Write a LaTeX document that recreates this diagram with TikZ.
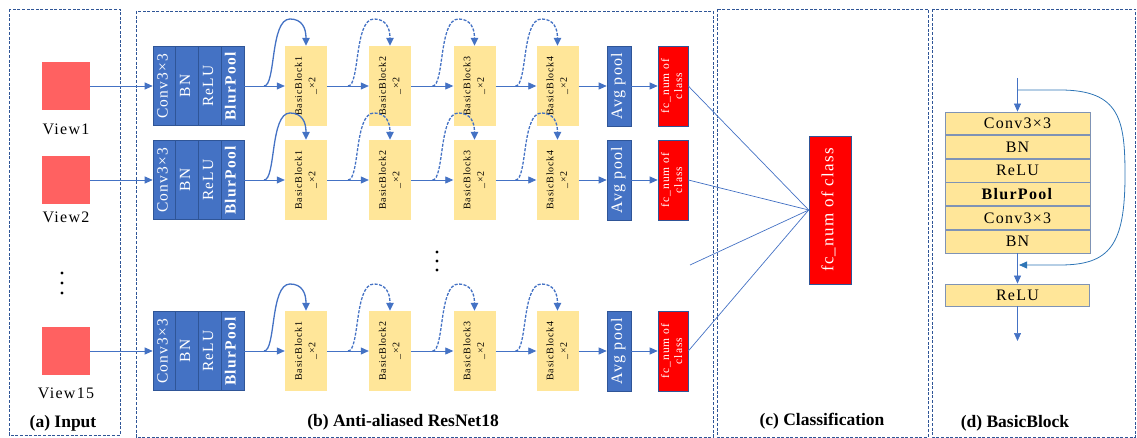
\documentclass[tikz,border=0pt]{standalone}
\usepackage{fontspec}
\setmainfont[LetterSpace=8]{Liberation Serif}
\newfontfamily\plainf{Liberation Serif}
\usetikzlibrary{arrows.meta}
\definecolor{sblue}{HTML}{4472C4}
\definecolor{dblue}{HTML}{2F5597}
\definecolor{byel}{HTML}{FFE699}
\definecolor{vred}{HTML}{FF6161}
\definecolor{fred}{HTML}{FF0000}
\definecolor{lblue}{HTML}{2E75B6}
\definecolor{gblue}{HTML}{7F93B5}
\newcommand{\rt}[1]{\rotatebox{90}{\begin{tabular}{@{}c@{}}#1\end{tabular}}}
\begin{document}
\begin{tikzpicture}[x=1pt,y=-1pt,
 panel/.style={draw=dblue,line width=0.9pt,dash pattern=on 3pt off 1.6pt},
 insq/.style={fill=vred,minimum width=48pt,minimum height=48pt,inner sep=0},
 stemcell/.style={draw=dblue,line width=0.6pt,fill=sblue,minimum width=22.75pt,minimum height=79pt,inner sep=0,text=white,font=\fontsize{15.5}{15.5}\selectfont},
 bbk/.style={fill=byel,minimum width=42pt,minimum height=80pt,inner sep=0,font=\fontsize{10}{13.5}\selectfont},
 avgp/.style={draw=dblue,fill=sblue,line width=0.6pt,minimum width=24pt,minimum height=80pt,inner sep=0,text=white,font=\fontsize{16}{16}\selectfont},
 fcb/.style={draw=dblue,fill=fred,line width=0.6pt,minimum width=30pt,minimum height=80pt,inner sep=0,text=white,font=\fontsize{11.5}{13}\selectfont},
 conn/.style={draw=sblue,line width=0.8pt,-{Triangle[length=8pt,width=7pt]}},
 skip/.style={draw=sblue,line width=1.3pt,-{Triangle[length=8pt,width=7.5pt]}},
 dskip/.style={skip,dash pattern=on 3pt off 1.5pt},
 fcl/.style={draw=sblue,line width=0.7pt},
 thin/.style={draw=sblue,line width=0.7pt,-{Triangle[length=8pt,width=7pt]}},
 dcell/.style={draw=gblue,line width=0.8pt,fill=byel,minimum width=145pt,minimum height=22.83pt,inner sep=0,font=\fontsize{16}{16}\selectfont},
 lbl/.style={font=\plainf\bfseries\fontsize{17.5}{17.5}\selectfont},
 vlbl/.style={font=\fontsize{16}{16}\selectfont}
]
\useasboundingbox (0,0) rectangle (1137,438);
% panels
\draw[panel] (9,9) rectangle (120,435);
\draw[panel] (136,11) rectangle (713,437);
\draw[panel] (717,9) rectangle (928,437);
\draw[panel] (932,9) rectangle (1135.5,437);
% panel labels
\node[lbl] (la) at (63,423) {(a) Input};
\node[lbl] (lb) at (403,422) {(b) Anti-aliased ResNet18};
\node[lbl] (lc) at (822,421) {(c) Classification};
\node[lbl] (ld) at (1015,423) {(d) BasicBlock};
% classification fc
\node[fcb,minimum width=42pt,minimum height=148pt,font=\fontsize{17}{17}\selectfont] (cls) at (830,210) {\rt{fc\_num of class}};
% rows
\foreach \r/\y/\vy/\vt in {1/86/129/View1, 2/180/217/View2, 3/351/393/View15} {
 \node[insq] (in\r) at (66,\y) {};
 \node[vlbl] (vl\r) at (66,\vy) {\vt};
 \node[stemcell] (cv\r) at (164.4,\y) {\rt{Conv3×3}};
 \node[stemcell] (bn\r) at (187.1,\y) {\rt{BN}};
 \node[stemcell] (rl\r) at (209.9,\y) {\rt{ReLU}};
 \node[stemcell] (bp\r) at (232.6,\y) {\rt{\textbf{BlurPool}}};
 \foreach \b/\x in {1/306,2/390,3/474.5,4/557.5}
   \node[bbk] (bb\b-\r) at (\x,\y) {\rt{BasicBlock\b\\\_×2}};
 \node[avgp] (ap\r) at (619,\y) {\rt{Avg pool}};
 \node[fcb] (fc\r) at (673,\y) {\rt{fc\_num of\\class}};
 \draw[conn] (in\r.east) -- (cv\r.west);
 \draw[conn] (bp\r.east) -- (bb1-\r.west);
 \draw[conn] (bb1-\r.east) -- (bb2-\r.west);
 \draw[conn] (bb2-\r.east) -- (bb3-\r.west);
 \draw[conn] (bb3-\r.east) -- (bb4-\r.west);
 \draw[conn] (bb4-\r.east) -- (ap\r.west);
 \draw[conn] (ap\r.east) -- (fc\r.west);
 \draw[fcl] (fc\r.east) -- (cls.west);
 \coordinate (k1-\r) at (264,\y);
 \draw[skip] (k1-\r) .. controls (276,\y) and (270,\y-67) .. (290,\y-67) .. controls (302,\y-67) and (306,\y-58) .. (bb1-\r.north);
 \foreach \b/\xo in {2/348,3/432.5,4/515.5} {
   \coordinate (k\b-\r) at (\xo,\y);
   \draw[dskip] (k\b-\r) .. controls (\xo+12,\y) and (\xo+6,\y-67) .. (\xo+26,\y-67) .. controls (\xo+38,\y-67) and (\xo+42,\y-58) .. (bb\b-\r.north);
 }
}
\coordinate (xl) at (690,265);
\draw[fcl] (xl) -- (cls.west);
% dots
\foreach \yy in {273,283,293} \fill (62,\yy) circle (1.6);
\foreach \yy in {252,261,270} \fill (437,\yy) circle (1.6);
% basic block (d)
\node[dcell] (d1) at (1017.5,123.4) {Conv3×3};
\node[dcell,anchor=north] (d2) at (d1.south) {BN};
\node[dcell,anchor=north] (d3) at (d2.south) {ReLU};
\node[dcell,anchor=north] (d4) at (d3.south) {\textbf{BlurPool}};
\node[dcell,anchor=north] (d5) at (d4.south) {Conv3×3};
\node[dcell,anchor=north] (d6) at (d5.south) {BN};
\node[dcell,minimum width=144pt,minimum height=22pt] (d7) at (1017.5,295) {ReLU};
\coordinate (din) at (1017.5,78);
\coordinate (dk) at (1017.5,90);
\coordinate (dm) at (1019,265);
\coordinate (dout) at (1017.5,341);
\draw[thin] (din) -- (d1.north);
\draw[thin] (d6.south) -- (d7.north);
\draw[thin] (d7.south) -- (dout);
\draw[draw=lblue,line width=0.8pt,-{Triangle[length=8pt,width=7pt]}] (dk) -- (1060,90) .. controls (1120,90) and (1125,120) .. (1125,175) .. controls (1125,245) and (1110,265) .. (1060,265) -- (dm);
\end{tikzpicture}
\end{document}
